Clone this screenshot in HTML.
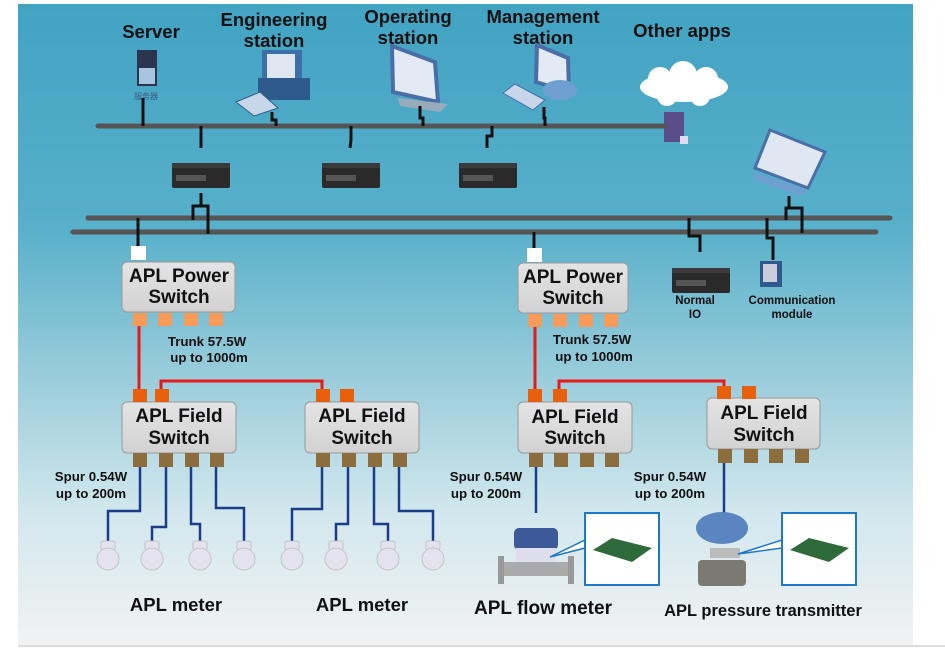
<!DOCTYPE html>
<html><head><meta charset="utf-8"><style>
html,body{margin:0;padding:0;background:#fff;width:945px;height:651px;overflow:hidden}
svg text{font-family:"Liberation Sans",sans-serif;font-weight:bold;fill:#111}
</style></head><body>
<svg width="945" height="651" viewBox="0 0 945 651" xmlns="http://www.w3.org/2000/svg">
<defs>
<linearGradient id="bg" x1="0" y1="0" x2="0" y2="1">
<stop offset="0" stop-color="#42a3c3"/><stop offset="0.35" stop-color="#58b0ca"/>
<stop offset="0.6" stop-color="#9fcfdc"/><stop offset="0.8" stop-color="#d3e8ee"/><stop offset="1" stop-color="#f2f2f2"/>
</linearGradient>
<linearGradient id="box" x1="0" y1="0" x2="0" y2="1"><stop offset="0" stop-color="#e4e4e4"/><stop offset="1" stop-color="#d2d2d2"/></linearGradient>
<g id="router"><rect x="0" y="3" width="58" height="22" rx="2" fill="#2a2a2a"/><rect x="0" y="0" width="58" height="5" fill="#3a3a3a"/><rect x="4" y="12" width="30" height="6" fill="#555"/></g>
<g id="bulb"><rect x="-7" y="-12" width="14" height="9" rx="2" fill="#e4e2ee" stroke="#bbb" stroke-width="0.8"/><circle cx="0" cy="6" r="11" fill="#e4e2ee" stroke="#bbb" stroke-width="0.8"/></g>
</defs>
<rect x="18" y="4" width="895" height="641" fill="url(#bg)"/>
<line x1="18" y1="646" x2="945" y2="646" stroke="#ddd" stroke-width="2"/>

<g font-size="18.5" text-anchor="middle">
<text x="151" y="38">Server</text>
<text x="274" y="26">Engineering</text>
<text x="274" y="47">station</text>
<text x="408" y="23">Operating</text>
<text x="408" y="44">station</text>
<text x="543" y="23">Management</text>
<text x="543" y="44">station</text>
<text x="682" y="37">Other apps</text>
</g>

<rect x="137" y="50" width="20" height="36" fill="#2b3550"/><rect x="139" y="68" width="16" height="16" fill="#a8c4e0"/>
<text x="146" y="99" font-size="8" text-anchor="middle" style="fill:#3b5a80;font-weight:normal">服务器</text>
<rect x="262" y="50" width="40" height="36" fill="#3d6fa8"/><rect x="267" y="54" width="28" height="26" fill="#dfe8f2"/>
<rect x="258" y="78" width="52" height="22" fill="#2f5a8c"/>
<polygon points="236,102 260,92 278,108 254,116" fill="#c8d6ea" stroke="#2f5a8c"/>
<polygon points="392,46 435,62 438,102 393,92" fill="#e4eaf4" stroke="#4a6fa8" stroke-width="4"/>
<polygon points="398,98 448,104 440,112 400,106" fill="#9ab"/>
<polygon points="537,45 568,58 569,92 536,82" fill="#e4eaf4" stroke="#4a6fa8" stroke-width="4"/>
<ellipse cx="560" cy="90" rx="17" ry="10" fill="#6f9fd0"/>
<polygon points="503,93 515,84 545,100 533,110" fill="#c8d6ea" stroke="#4a6fa8"/>
<g fill="#fff"><ellipse cx="684" cy="87" rx="44" ry="15"/><circle cx="660" cy="79" r="12"/><circle cx="683" cy="75" r="14"/><circle cx="706" cy="79" r="12"/><circle cx="667" cy="96" r="10"/><circle cx="700" cy="96" r="10"/></g>
<rect x="664" y="112" width="20" height="30" fill="#5a4e8a"/><rect x="680" y="136" width="8" height="8" fill="#dde"/>

<line x1="98" y1="126" x2="665" y2="126" stroke="#555" stroke-width="5" stroke-linecap="round"/>
<g stroke="#111" stroke-width="3" fill="none">
<line x1="143" y1="98" x2="143" y2="126"/>
<polyline points="272,112 272,120 276,120 276,126"/>
<polyline points="420,106 420,118 423,118 423,126"/>
<polyline points="544,107 544,118 545,118 545,126"/>
<line x1="201" y1="126" x2="201" y2="148"/>
<polyline points="351,126 351,140 350,148"/>
<polyline points="492,126 492,136 487,136 487,148"/>
</g>
<use href="#router" x="172" y="163"/><use href="#router" x="322" y="163"/><use href="#router" x="459" y="163"/>
<polygon points="755,168 770,130 825,152 808,188" fill="#dfe8f2" stroke="#4a6fa8" stroke-width="3"/>
<polygon points="752,172 808,190 800,196 755,180" fill="#6f9fd0"/>

<line x1="88" y1="218" x2="890" y2="218" stroke="#555" stroke-width="5" stroke-linecap="round"/>
<line x1="73" y1="232" x2="876" y2="232" stroke="#555" stroke-width="5" stroke-linecap="round"/>
<g stroke="#111" stroke-width="3" fill="none">
<polyline points="201,193 201,206 193,206 193,220"/><polyline points="201,206 208,206 208,234"/>
<line x1="138" y1="218" x2="138" y2="248"/>
<line x1="534" y1="232" x2="534" y2="248"/>
<polyline points="689,218 689,236 700,236 700,252"/>
<polyline points="767,218 767,238 773,238 773,260"/>
<polyline points="789,196 789,208 786,208 786,220"/><polyline points="789,208 802,208 802,233"/>
</g>
<use href="#router" x="672" y="268"/>
<rect x="760" y="261" width="22" height="26" fill="#2f5a8c"/><rect x="763" y="264" width="14" height="18" fill="#ccd"/>
<text x="695" y="304" font-size="11.5" text-anchor="middle">Normal</text>
<text x="695" y="318" font-size="11.5" text-anchor="middle">IO</text>
<text x="792" y="304" font-size="11.5" text-anchor="middle">Communication</text>
<text x="792" y="318" font-size="11.5" text-anchor="middle">module</text>

<rect x="131" y="246" width="15" height="14" fill="#fff"/>
<rect x="527" y="248" width="15" height="14" fill="#fff"/>
<g stroke="#999" stroke-width="1" fill="url(#box)">
<rect x="122" y="262" width="113" height="50" rx="5"/><rect x="518" y="263" width="110" height="50" rx="5"/>
<rect x="122" y="402" width="114" height="51" rx="5"/><rect x="305" y="402" width="114" height="51" rx="5"/>
<rect x="518" y="402" width="114" height="51" rx="5"/><rect x="707" y="398" width="113" height="51" rx="5"/>
</g>
<g font-size="19" text-anchor="middle">
<text x="179" y="282">APL Power</text><text x="179" y="303">Switch</text>
<text x="573" y="283">APL Power</text><text x="573" y="304">Switch</text>
<text x="179" y="422">APL Field</text><text x="179" y="444">Switch</text>
<text x="362" y="422">APL Field</text><text x="362" y="444">Switch</text>
<text x="575" y="423">APL Field</text><text x="575" y="444">Switch</text>
<text x="764" y="419">APL Field</text><text x="764" y="441">Switch</text>
</g>
<g fill="#f79a5a">
<rect x="133" y="313" width="14" height="13"/><rect x="158" y="313" width="14" height="13"/><rect x="184" y="313" width="14" height="13"/><rect x="209" y="313" width="14" height="13"/>
<rect x="528" y="314" width="14" height="13"/><rect x="553" y="314" width="14" height="13"/><rect x="579" y="314" width="14" height="13"/><rect x="604" y="314" width="14" height="13"/>
</g>
<g fill="#e8600c">
<rect x="133" y="389" width="14" height="13"/><rect x="155" y="389" width="14" height="13"/>
<rect x="316" y="389" width="14" height="13"/><rect x="340" y="389" width="14" height="13"/>
<rect x="528" y="389" width="14" height="13"/><rect x="553" y="389" width="14" height="13"/>
<rect x="717" y="386" width="14" height="13"/><rect x="742" y="386" width="14" height="13"/>
</g>
<g stroke="#e51b1b" stroke-width="3" fill="none">
<line x1="139" y1="326" x2="139" y2="389"/><polyline points="161,389 161,381 322,381 322,389"/>
<line x1="535" y1="327" x2="535" y2="389"/><polyline points="559,389 559,381 724,381 724,386"/>
</g>
<g font-size="13.3" text-anchor="middle">
<text x="207" y="346">Trunk 57.5W</text><text x="209" y="362">up to 1000m</text>
<text x="592" y="344">Trunk 57.5W</text><text x="594" y="361">up to 1000m</text>
<text x="91" y="481">Spur 0.54W</text><text x="91" y="498">up to 200m</text>
<text x="486" y="481">Spur 0.54W</text><text x="486" y="498">up to 200m</text>
<text x="670" y="481">Spur 0.54W</text><text x="670" y="498">up to 200m</text>
</g>
<g fill="#8b6d3e">
<rect x="133" y="453" width="14" height="14"/><rect x="159" y="453" width="14" height="14"/><rect x="185" y="453" width="14" height="14"/><rect x="210" y="453" width="14" height="14"/>
<rect x="316" y="453" width="14" height="14"/><rect x="342" y="453" width="14" height="14"/><rect x="368" y="453" width="14" height="14"/><rect x="393" y="453" width="14" height="14"/>
<rect x="529" y="453" width="14" height="14"/><rect x="554" y="453" width="14" height="14"/><rect x="580" y="453" width="14" height="14"/><rect x="605" y="453" width="14" height="14"/>
<rect x="718" y="449" width="14" height="14"/><rect x="744" y="449" width="14" height="14"/><rect x="769" y="449" width="14" height="14"/><rect x="795" y="449" width="14" height="14"/>
</g>
<g stroke="#1a3d8a" stroke-width="2.5" fill="none">
<polyline points="140,467 140,511 108,511 108,541"/>
<polyline points="166,467 166,527 152,527 152,541"/>
<polyline points="191,467 191,524 200,524 200,541"/>
<polyline points="216,467 216,508 244,508 244,541"/>
<polyline points="322,467 322,509 292,509 292,541"/>
<polyline points="348,467 348,524 336,524 336,541"/>
<polyline points="374,467 374,524 388,524 388,541"/>
<polyline points="399,467 399,511 433,511 433,541"/>
<line x1="536" y1="467" x2="536" y2="513"/>
<line x1="724" y1="463" x2="724" y2="513"/>
</g>
<use href="#bulb" x="108" y="553"/><use href="#bulb" x="152" y="553"/><use href="#bulb" x="200" y="553"/><use href="#bulb" x="244" y="553"/>
<use href="#bulb" x="292" y="553"/><use href="#bulb" x="336" y="553"/><use href="#bulb" x="388" y="553"/><use href="#bulb" x="433" y="553"/>
<g text-anchor="middle">
<text x="176" y="611" font-size="18.5">APL meter</text><text x="362" y="611" font-size="18.5">APL meter</text>
<text x="543" y="614" font-size="19">APL flow meter</text><text x="763" y="616" font-size="16.5">APL pressure transmitter</text>
</g>
<rect x="514" y="528" width="44" height="22" rx="5" fill="#3c5a9a"/>
<rect x="516" y="548" width="40" height="20" fill="#dde"/>
<rect x="500" y="562" width="72" height="14" fill="#aaa"/><rect x="498" y="556" width="6" height="28" fill="#999"/><rect x="568" y="556" width="6" height="28" fill="#999"/>
<polygon points="550,557 585,540 585,548" fill="#fff" stroke="#1e78c8" stroke-width="1.5"/>
<rect x="585" y="513" width="74" height="72" fill="#fff" stroke="#1e78c8" stroke-width="2"/>
<polygon points="593,550 612,538 652,548 632,562" fill="#2f6a3a"/>
<ellipse cx="722" cy="528" rx="26" ry="16" fill="#5a85c0"/>
<rect x="710" y="548" width="30" height="10" fill="#bbb"/>
<rect x="698" y="560" width="48" height="26" rx="4" fill="#7a7a72"/>
<polygon points="738,554 782,540 782,548" fill="#fff" stroke="#1e78c8" stroke-width="1.5"/>
<rect x="782" y="513" width="74" height="72" fill="#fff" stroke="#1e78c8" stroke-width="2"/>
<polygon points="790,550 809,538 849,548 829,562" fill="#2f6a3a"/>
</svg>
</body></html>
